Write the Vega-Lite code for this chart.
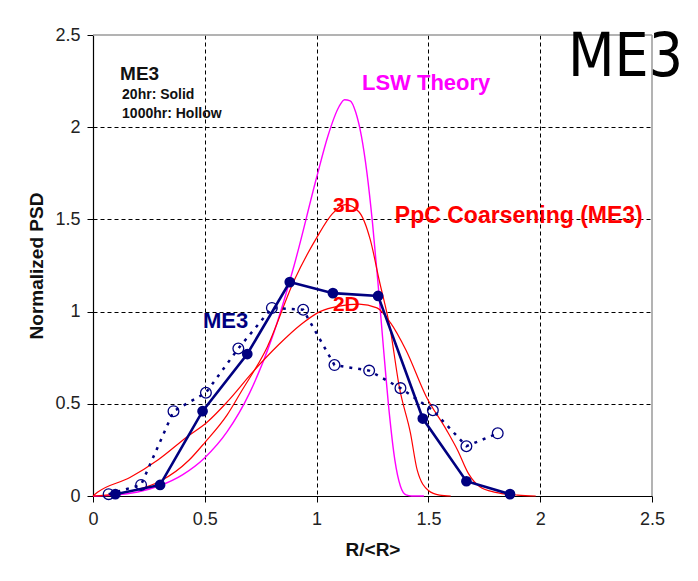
{
  "$schema": "https://vega.github.io/schema/vega-lite/v6.json",
  "width": 559,
  "height": 461,
  "autosize": {"type": "none"},
  "padding": {"left": 93, "top": 35, "right": 46, "bottom": 85},
  "background": "white",
  "title": {
    "text": "ME3",
    "anchor": "end",
    "frame": "group",
    "font": "Liberation Sans Narrow, DejaVu Sans Condensed, sans-serif",
    "fontSize": 60,
    "fontWeight": "normal",
    "color": "#000000",
    "baseline": "alphabetic",
    "offset": 0,
    "dx": 31,
    "dy": 110
  },
  "config": {
    "view": {"stroke": null},
    "font": "Liberation Sans",
    "axis": {
      "grid": true,
      "gridColor": "#000000",
      "gridDash": [4, 3],
      "gridWidth": 1,
      "gridOpacity": {"condition": {"test": "datum.value == 0 || datum.value == 2.5", "value": 0}, "value": 1},
      "domainColor": "#000000",
      "domainWidth": 1.2,
      "tickColor": "#000000",
      "tickSize": 6,
      "labelFont": "Liberation Sans",
      "labelFontSize": 18,
      "labelColor": "#222222",
      "labelFlush": false,
      "labelOverlap": false,
      "titleFont": "Liberation Sans",
      "titleFontSize": 19,
      "titleFontWeight": "bold",
      "titleColor": "#111111"
    },
    "text": {"fontWeight": "bold", "align": "left", "baseline": "middle"}
  },
  "datasets": {
    "curves": [
      {"series": "LSW", "r": 0, "psd": 0},
      {"series": "LSW", "r": 0.1, "psd": 0.005},
      {"series": "LSW", "r": 0.2, "psd": 0.022},
      {"series": "LSW", "r": 0.3, "psd": 0.057},
      {"series": "LSW", "r": 0.4, "psd": 0.115},
      {"series": "LSW", "r": 0.5, "psd": 0.208},
      {"series": "LSW", "r": 0.6, "psd": 0.349},
      {"series": "LSW", "r": 0.7, "psd": 0.558},
      {"series": "LSW", "r": 0.8, "psd": 0.855},
      {"series": "LSW", "r": 0.9, "psd": 1.253},
      {"series": "LSW", "r": 1.0, "psd": 1.727},
      {"series": "LSW", "r": 1.05, "psd": 1.95},
      {"series": "LSW", "r": 1.1, "psd": 2.111},
      {"series": "LSW", "r": 1.125, "psd": 2.149},
      {"series": "LSW", "r": 1.15, "psd": 2.143},
      {"series": "LSW", "r": 1.175, "psd": 2.081},
      {"series": "LSW", "r": 1.2, "psd": 1.954},
      {"series": "LSW", "r": 1.225, "psd": 1.754},
      {"series": "LSW", "r": 1.25, "psd": 1.481},
      {"series": "LSW", "r": 1.275, "psd": 1.149},
      {"series": "LSW", "r": 1.3, "psd": 0.789},
      {"series": "LSW", "r": 1.325, "psd": 0.451},
      {"series": "LSW", "r": 1.35, "psd": 0.195},
      {"series": "LSW", "r": 1.375, "psd": 0.053},
      {"series": "LSW", "r": 1.4, "psd": 0.006},
      {"series": "LSW", "r": 1.425, "psd": 0.0002},
      {"series": "LSW", "r": 1.45, "psd": 0},
      {"series": "LSW", "r": 1.48, "psd": 0},
      {"series": "3D", "r": 0, "psd": 0},
      {"series": "3D", "r": 0.1, "psd": 0.01},
      {"series": "3D", "r": 0.2, "psd": 0.035},
      {"series": "3D", "r": 0.3, "psd": 0.08},
      {"series": "3D", "r": 0.43, "psd": 0.195},
      {"series": "3D", "r": 0.5, "psd": 0.29},
      {"series": "3D", "r": 0.6, "psd": 0.44},
      {"series": "3D", "r": 0.66, "psd": 0.56},
      {"series": "3D", "r": 0.78, "psd": 0.81},
      {"series": "3D", "r": 0.9, "psd": 1.17},
      {"series": "3D", "r": 1.0, "psd": 1.4},
      {"series": "3D", "r": 1.07, "psd": 1.53},
      {"series": "3D", "r": 1.13, "psd": 1.58},
      {"series": "3D", "r": 1.19, "psd": 1.54},
      {"series": "3D", "r": 1.24, "psd": 1.39},
      {"series": "3D", "r": 1.28, "psd": 1.17},
      {"series": "3D", "r": 1.33, "psd": 0.9},
      {"series": "3D", "r": 1.37, "psd": 0.59},
      {"series": "3D", "r": 1.42, "psd": 0.34},
      {"series": "3D", "r": 1.45, "psd": 0.14},
      {"series": "3D", "r": 1.5, "psd": 0.03},
      {"series": "3D", "r": 1.55, "psd": 0.005},
      {"series": "3D", "r": 1.6, "psd": 0},
      {"series": "2D", "r": 0, "psd": 0},
      {"series": "2D", "r": 0.02, "psd": 0.02},
      {"series": "2D", "r": 0.165, "psd": 0.1},
      {"series": "2D", "r": 0.29, "psd": 0.195},
      {"series": "2D", "r": 0.42, "psd": 0.32},
      {"series": "2D", "r": 0.51, "psd": 0.4},
      {"series": "2D", "r": 0.6, "psd": 0.51},
      {"series": "2D", "r": 0.72, "psd": 0.68},
      {"series": "2D", "r": 0.83, "psd": 0.82},
      {"series": "2D", "r": 0.93, "psd": 0.93},
      {"series": "2D", "r": 1.015, "psd": 1.0},
      {"series": "2D", "r": 1.1, "psd": 1.03},
      {"series": "2D", "r": 1.19, "psd": 1.04},
      {"series": "2D", "r": 1.27, "psd": 1.02},
      {"series": "2D", "r": 1.33, "psd": 0.94},
      {"series": "2D", "r": 1.4, "psd": 0.79},
      {"series": "2D", "r": 1.49, "psd": 0.54},
      {"series": "2D", "r": 1.58, "psd": 0.36},
      {"series": "2D", "r": 1.63, "psd": 0.25},
      {"series": "2D", "r": 1.68, "psd": 0.12},
      {"series": "2D", "r": 1.73, "psd": 0.05},
      {"series": "2D", "r": 1.8, "psd": 0.02},
      {"series": "2D", "r": 1.9, "psd": 0.005},
      {"series": "2D", "r": 1.98, "psd": 0},
      {"series": "1000hr", "r": 0.07, "psd": 0.01},
      {"series": "1000hr", "r": 0.215, "psd": 0.06},
      {"series": "1000hr", "r": 0.36, "psd": 0.46},
      {"series": "1000hr", "r": 0.505, "psd": 0.56},
      {"series": "1000hr", "r": 0.65, "psd": 0.8},
      {"series": "1000hr", "r": 0.8, "psd": 1.02},
      {"series": "1000hr", "r": 0.94, "psd": 1.01},
      {"series": "1000hr", "r": 1.08, "psd": 0.71},
      {"series": "1000hr", "r": 1.235, "psd": 0.68},
      {"series": "1000hr", "r": 1.375, "psd": 0.585},
      {"series": "1000hr", "r": 1.52, "psd": 0.465},
      {"series": "1000hr", "r": 1.67, "psd": 0.27},
      {"series": "1000hr", "r": 1.81, "psd": 0.34},
      {"series": "20hr", "r": 0.1, "psd": 0.01},
      {"series": "20hr", "r": 0.3, "psd": 0.06},
      {"series": "20hr", "r": 0.49, "psd": 0.46},
      {"series": "20hr", "r": 0.69, "psd": 0.77},
      {"series": "20hr", "r": 0.88, "psd": 1.16},
      {"series": "20hr", "r": 1.073, "psd": 1.1},
      {"series": "20hr", "r": 1.275, "psd": 1.085},
      {"series": "20hr", "r": 1.475, "psd": 0.42},
      {"series": "20hr", "r": 1.67, "psd": 0.08},
      {"series": "20hr", "r": 1.865, "psd": 0.01}
    ]
  },
  "layer": [
    {
      "data": {"name": "curves"},
      "transform": [{"filter": "datum.series == 'LSW'"}],
      "mark": {"type": "line", "color": "#ff00ff", "strokeWidth": 1.4, "interpolate": "monotone"},
      "encoding": {
        "x": {
          "field": "r",
          "type": "quantitative",
          "scale": {"domain": [0, 2.5], "nice": false, "zero": false},
          "axis": {"values": [0, 0.5, 1, 1.5, 2, 2.5], "format": "~g", "title": "R/<R>", "labelPadding": 8, "titlePadding": 12}
        },
        "y": {
          "field": "psd",
          "type": "quantitative",
          "scale": {"domain": [0, 2.5], "nice": false, "zero": false},
          "axis": {"values": [0, 0.5, 1, 1.5, 2, 2.5], "format": "~g", "title": "Normalized PSD", "labelPadding": 7, "titlePadding": 8}
        }
      }
    },
    {
      "data": {"name": "curves"},
      "transform": [{"filter": "datum.series == '3D'"}],
      "mark": {"type": "line", "color": "#ff0000", "strokeWidth": 1.2, "interpolate": "monotone"},
      "encoding": {"x": {"field": "r", "type": "quantitative"}, "y": {"field": "psd", "type": "quantitative"}}
    },
    {
      "data": {"name": "curves"},
      "transform": [{"filter": "datum.series == '2D'"}],
      "mark": {"type": "line", "color": "#ff0000", "strokeWidth": 1.2, "interpolate": "monotone"},
      "encoding": {"x": {"field": "r", "type": "quantitative"}, "y": {"field": "psd", "type": "quantitative"}}
    },
    {
      "data": {"name": "curves"},
      "transform": [{"filter": "datum.series == '1000hr'"}],
      "mark": {"type": "line", "color": "#000080", "strokeWidth": 2.5, "strokeDash": [3, 6]},
      "encoding": {"x": {"field": "r", "type": "quantitative"}, "y": {"field": "psd", "type": "quantitative"}}
    },
    {
      "data": {"name": "curves"},
      "transform": [{"filter": "datum.series == '1000hr'"}],
      "mark": {"type": "point", "shape": "circle", "filled": false, "color": "#000080", "size": 115, "strokeWidth": 1.3, "opacity": 1},
      "encoding": {"x": {"field": "r", "type": "quantitative"}, "y": {"field": "psd", "type": "quantitative"}}
    },
    {
      "data": {"name": "curves"},
      "transform": [{"filter": "datum.series == '20hr'"}],
      "mark": {"type": "line", "color": "#000080", "strokeWidth": 2.6},
      "encoding": {"x": {"field": "r", "type": "quantitative"}, "y": {"field": "psd", "type": "quantitative"}}
    },
    {
      "data": {"name": "curves"},
      "transform": [{"filter": "datum.series == '20hr'"}],
      "mark": {"type": "circle", "color": "#000080", "size": 115, "opacity": 1},
      "encoding": {"x": {"field": "r", "type": "quantitative"}, "y": {"field": "psd", "type": "quantitative"}}
    },
    {
      "data": {"values": [{"edge": "top"}]},
      "mark": {"type": "rule", "color": "#9a9a9a", "strokeWidth": 1.5},
      "encoding": {"y": {"datum": 2.5}, "detail": {"field": "edge"}}
    },
    {
      "data": {"values": [{"edge": "right"}]},
      "mark": {"type": "rule", "color": "#9a9a9a", "strokeWidth": 1.5},
      "encoding": {"x": {"datum": 2.5}, "detail": {"field": "edge"}}
    },
    {
      "data": {"values": [{"label": "ME3"}]},
      "mark": {"type": "text", "fontSize": 19, "color": "#111111"},
      "encoding": {"text": {"field": "label"}, "x": {"datum": 0.121}, "y": {"datum": 2.29}}
    },
    {
      "data": {"values": [{"label": "20hr: Solid"}]},
      "mark": {"type": "text", "fontSize": 14, "color": "#111111"},
      "encoding": {"text": {"field": "label"}, "x": {"datum": 0.13}, "y": {"datum": 2.175}}
    },
    {
      "data": {"values": [{"label": "1000hr: Hollow"}]},
      "mark": {"type": "text", "fontSize": 14, "color": "#111111"},
      "encoding": {"text": {"field": "label"}, "x": {"datum": 0.13}, "y": {"datum": 2.07}}
    },
    {
      "data": {"values": [{"label": "LSW Theory"}]},
      "mark": {"type": "text", "fontSize": 22, "color": "#ff00ff"},
      "encoding": {"text": {"field": "label"}, "x": {"datum": 1.203}, "y": {"datum": 2.24}}
    },
    {
      "data": {"values": [{"label": "3D"}]},
      "mark": {"type": "text", "fontSize": 21, "color": "#ff0000"},
      "encoding": {"text": {"field": "label"}, "x": {"datum": 1.073}, "y": {"datum": 1.575}}
    },
    {
      "data": {"values": [{"label": "PpC Coarsening (ME3)"}]},
      "mark": {"type": "text", "fontSize": 23, "color": "#ff0000"},
      "encoding": {"text": {"field": "label"}, "x": {"datum": 1.35}, "y": {"datum": 1.516}}
    },
    {
      "data": {"values": [{"label": "2D"}]},
      "mark": {"type": "text", "fontSize": 21, "color": "#ff0000"},
      "encoding": {"text": {"field": "label"}, "x": {"datum": 1.073}, "y": {"datum": 1.036}}
    },
    {
      "data": {"values": [{"label": "ME3"}]},
      "mark": {"type": "text", "fontSize": 22, "color": "#000080"},
      "encoding": {"text": {"field": "label"}, "x": {"datum": 0.492}, "y": {"datum": 0.949}}
    }
  ]
}
